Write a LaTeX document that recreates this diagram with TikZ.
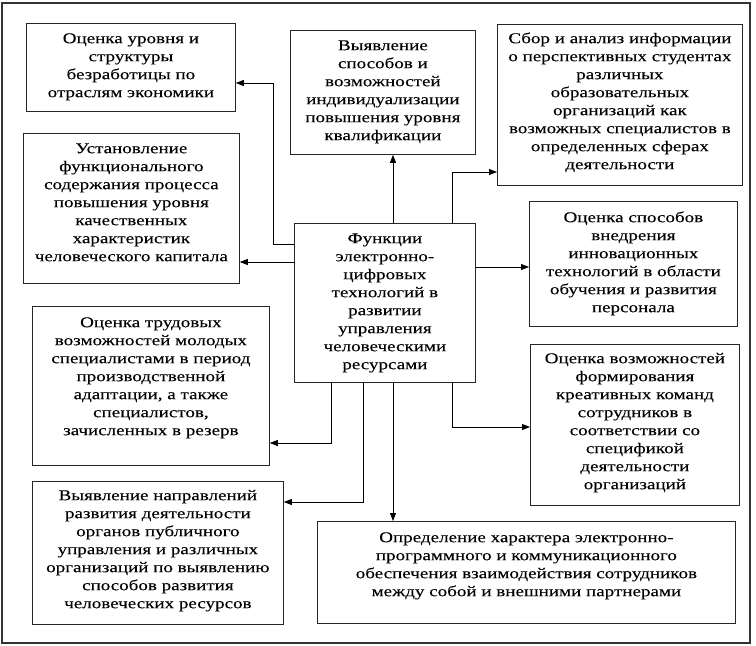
\documentclass[tikz,border=0pt]{standalone}
\usepackage{fontspec}
\setmainfont[FakeStretch=1.27,FakeBold=0.08]{Liberation Serif}
\usetikzlibrary{arrows.meta}
\begin{document}
\begin{tikzpicture}[x=1pt,y=-1pt,
  box/.style={draw=black!85, line width=0.8pt, rectangle, inner sep=0pt, anchor=north west},
  txt/.style={inner sep=0pt, align=center, anchor=north, font=\fontsize{15}{18}\selectfont},
  arr/.style={draw=black, line width=0.8pt, -{Triangle[length=8pt,width=6pt]}},
  ln/.style={draw=black, line width=0.8pt}]
\useasboundingbox (0,0) rectangle (756,646);
\draw[black!80, line width=1.4pt] (2,3) rectangle (750,643);
\newcommand{\fs}{\rule{0pt}{12pt}}
% boxes
\node[box, minimum width=209, minimum height=88] (b1) at (26,23) {};
\node[box, minimum width=216, minimum height=150] (b2) at (23,133) {};
\node[box, minimum width=185, minimum height=124] (b3) at (290,30) {};
\node[box, minimum width=245, minimum height=161] (b4) at (497,24) {};
\node[box, minimum width=208, minimum height=125] (b5) at (529,201) {};
\node[box, minimum width=181, minimum height=159] (c) at (294,223) {};
\node[box, minimum width=209, minimum height=161] (b6) at (530,344) {};
\node[box, minimum width=418, minimum height=102] (b7) at (317,521) {};
\node[box, minimum width=237, minimum height=159] (b8) at (32,306) {};
\node[box, minimum width=251, minimum height=143] (b9) at (32,481) {};
% texts
\node[txt] (t1) at ([yshift=-8]b1.north) {\fs Оценка уровня и\\структуры\\безработицы по\\отраслям экономики};
\node[txt] (t2) at ([yshift=-8]b2.north) {\fs Установление\\функционального\\содержания процесса\\повышения уровня\\качественных\\характеристик\\человеческого капитала};
\node[txt] (t3) at ([yshift=-8]b3.north) {\fs Выявление\\способов и\\возможностей\\индивидуализации\\повышения уровня\\квалификации};
\node[txt] (t4) at ([yshift=-7]b4.north) {\fs Сбор и анализ информации\\о перспективных студентах\\различных\\образовательных\\организаций как\\возможных специалистов в\\определенных сферах\\деятельности};
\node[txt] (t5) at ([yshift=-9]b5.north) {\fs Оценка способов\\внедрения\\инновационных\\технологий в области\\обучения и развития\\персонала};
\node[txt] (tc) at ([yshift=-8]c.north) {\fs Функции\\электронно-\\цифровых\\технологий в\\развитии\\управления\\человеческими\\ресурсами};
\node[txt] (t6) at ([yshift=-7]b6.north) {\fs Оценка возможностей\\формирования\\креативных команд\\сотрудников в\\соответствии со\\спецификой\\деятельности\\организаций};
\node[txt] (t7) at ([yshift=-9]b7.north) {\fs Определение характера электронно-\\программного и коммуникационного\\обеспечения взаимодействия сотрудников\\между собой и внешними партнерами};
\node[txt] (t8) at ([yshift=-9]b8.north) {\fs Оценка трудовых\\возможностей молодых\\специалистами в период\\производственной\\адаптации, а также\\специалистов,\\зачисленных в резерв};
\node[txt] (t9) at ([yshift=-7]b9.north) {\fs Выявление направлений\\развития деятельности\\органов публичного\\управления и различных\\организаций по выявлению\\способов развития\\человеческих ресурсов};
% elbow points
\coordinate (k1) at (273,83);
\coordinate (k4) at (452,172);
\coordinate (k6) at (452,427);
\coordinate (k8) at (331,443);
\coordinate (k9) at (363,502);
% connectors
\draw[arr] (c.west |- 0,244) -- (k1 |- 0,244) -- (k1) -- (b1.east |- k1);
\draw[arr] (c.west |- 0,262) -- (b2.east |- 0,262);
\draw[arr] (c.north -| 393,0) -- (b3.south -| 393,0);
\draw[arr] (c.north -| k4) -- (k4) -- (b4.west |- k4);
\draw[arr] (c.east |- 0,267) -- (b5.west |- 0,267);
\draw[arr] (c.south -| k6) -- (k6) -- (b6.west |- k6);
\draw[arr] (c.south -| 393,0) -- (b7.north -| 393,0);
\draw[arr] (c.south -| k8) -- (k8) -- (b8.east |- k8);
\draw[arr] (c.south -| k9) -- (k9) -- (b9.east |- k9);
\end{tikzpicture}
\end{document}
